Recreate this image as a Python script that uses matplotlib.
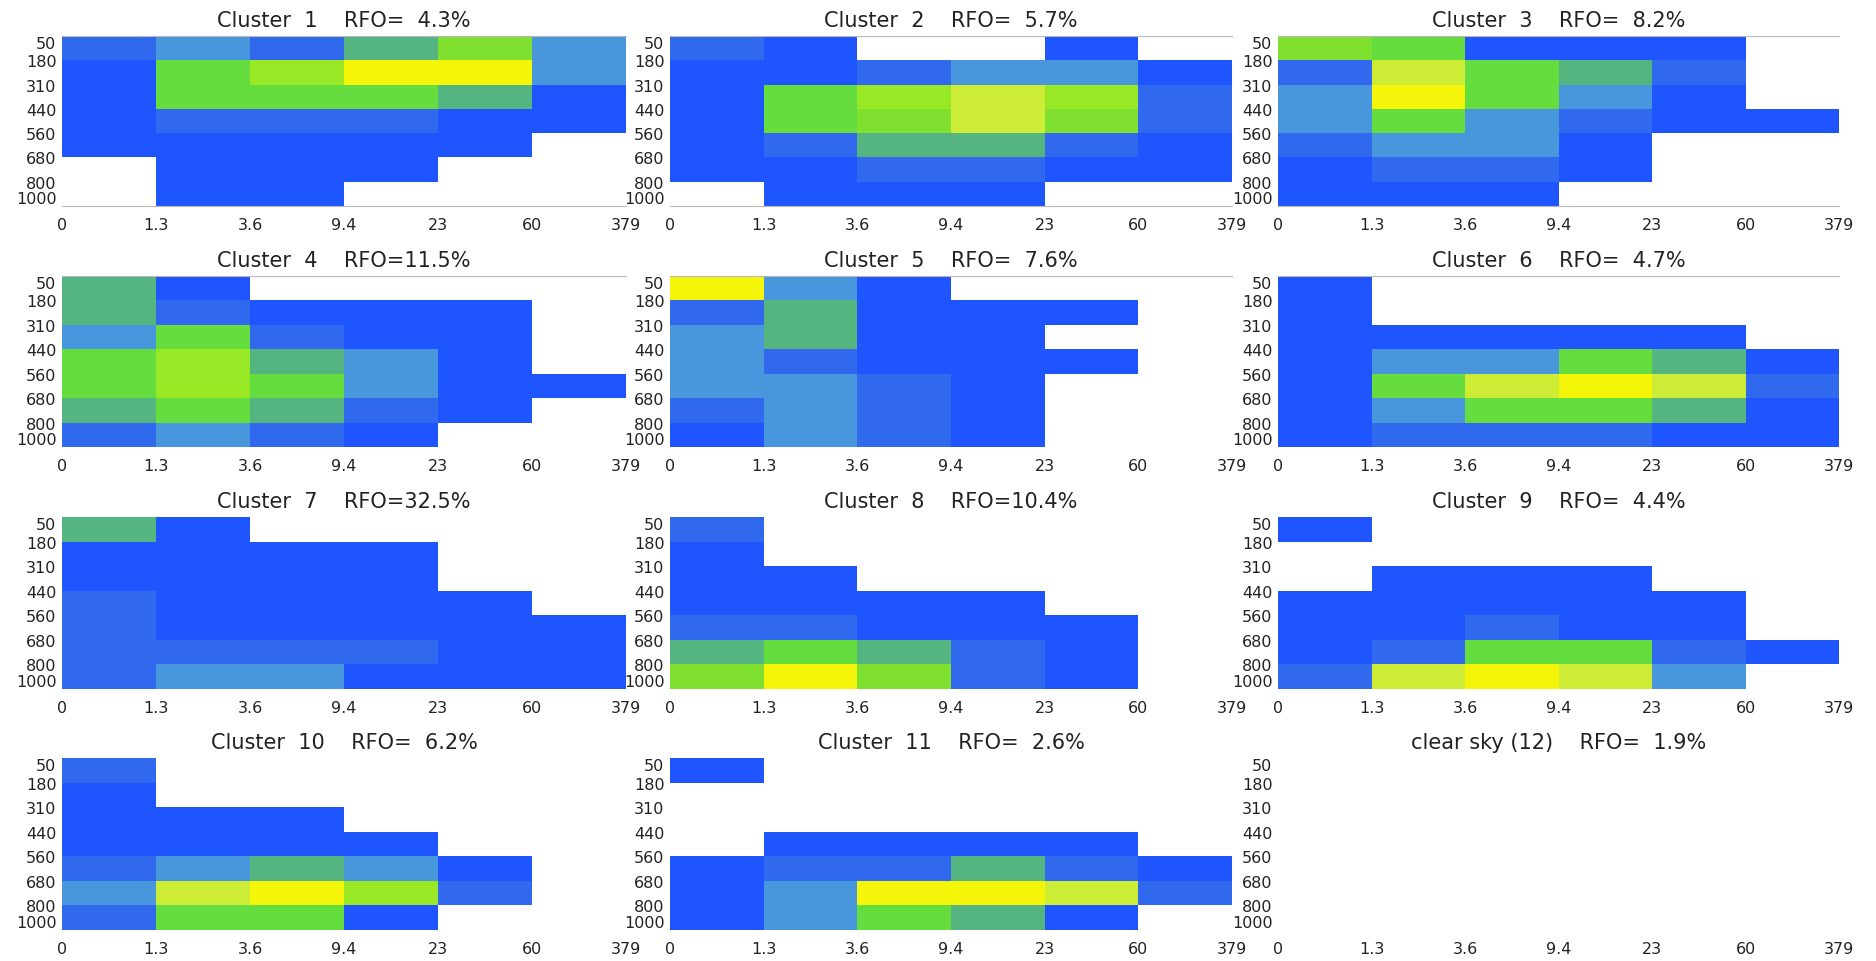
import matplotlib
matplotlib.use('Agg')
import matplotlib.pyplot as plt
import numpy as np
from matplotlib.colors import ListedColormap, BoundaryNorm

tau_labels = ['0', '1.3', '3.6', '9.4', '23', '60', '379']
pc_labels = ['50', '180', '310', '440', '560', '680', '800', '1000']

names = ['Cluster  1', 'Cluster  2', 'Cluster  3', 'Cluster  4', 'Cluster  5', 'Cluster  6',
         'Cluster  7', 'Cluster  8', 'Cluster  9', 'Cluster  10', 'Cluster  11', 'clear sky (12)']
rfo = [4.3, 5.7, 8.2, 11.5, 7.6, 4.7, 32.5, 10.4, 4.4, 6.2, 2.6, 1.9]

# colour level of each cell (0 = empty), rows 50-180 hPa at top down to 800-1000 hPa
cluster1 = [[2, 3, 2, 4, 6, 3],
            [1, 5, 7, 9, 9, 3],
            [1, 5, 5, 5, 4, 1],
            [1, 2, 2, 2, 1, 1],
            [1, 1, 1, 1, 1, 0],
            [0, 1, 1, 1, 0, 0],
            [0, 1, 1, 0, 0, 0]]
cluster2 = [[2, 1, 0, 0, 1, 0],
            [1, 1, 2, 3, 3, 1],
            [1, 5, 7, 8, 7, 2],
            [1, 5, 6, 8, 6, 2],
            [1, 2, 4, 4, 2, 1],
            [1, 1, 2, 2, 1, 1],
            [0, 1, 1, 1, 0, 0]]
cluster3 = [[6, 5, 1, 1, 1, 0],
            [2, 8, 5, 4, 2, 0],
            [3, 9, 5, 3, 1, 0],
            [3, 5, 3, 2, 1, 1],
            [2, 3, 3, 1, 0, 0],
            [1, 2, 2, 1, 0, 0],
            [1, 1, 1, 0, 0, 0]]
cluster4 = [[4, 1, 0, 0, 0, 0],
            [4, 2, 1, 1, 1, 0],
            [3, 5, 2, 1, 1, 0],
            [5, 7, 4, 3, 1, 0],
            [5, 7, 5, 3, 1, 1],
            [4, 5, 4, 2, 1, 0],
            [2, 3, 2, 1, 0, 0]]
cluster5 = [[9, 3, 1, 0, 0, 0],
            [2, 4, 1, 1, 1, 0],
            [3, 4, 1, 1, 0, 0],
            [3, 2, 1, 1, 1, 0],
            [3, 3, 2, 1, 0, 0],
            [2, 3, 2, 1, 0, 0],
            [1, 3, 2, 1, 0, 0]]
cluster6 = [[1, 0, 0, 0, 0, 0],
            [1, 0, 0, 0, 0, 0],
            [1, 1, 1, 1, 1, 0],
            [1, 3, 3, 5, 4, 1],
            [1, 5, 8, 9, 8, 2],
            [1, 3, 5, 5, 4, 1],
            [1, 2, 2, 2, 1, 1]]
cluster7 = [[4, 1, 0, 0, 0, 0],
            [1, 1, 1, 1, 0, 0],
            [1, 1, 1, 1, 0, 0],
            [2, 1, 1, 1, 1, 0],
            [2, 1, 1, 1, 1, 1],
            [2, 2, 2, 2, 1, 1],
            [2, 3, 3, 1, 1, 1]]
cluster8 = [[2, 0, 0, 0, 0, 0],
            [1, 0, 0, 0, 0, 0],
            [1, 1, 0, 0, 0, 0],
            [1, 1, 1, 1, 0, 0],
            [2, 2, 1, 1, 1, 0],
            [4, 5, 4, 2, 1, 0],
            [6, 9, 6, 2, 1, 0]]
cluster9 = [[1, 0, 0, 0, 0, 0],
            [0, 0, 0, 0, 0, 0],
            [0, 1, 1, 1, 0, 0],
            [1, 1, 1, 1, 1, 0],
            [1, 1, 2, 1, 1, 0],
            [1, 2, 5, 5, 2, 1],
            [2, 8, 9, 8, 3, 0]]
cluster10 = [[2, 0, 0, 0, 0, 0],
             [1, 0, 0, 0, 0, 0],
             [1, 1, 1, 0, 0, 0],
             [1, 1, 1, 1, 0, 0],
             [2, 3, 4, 3, 1, 0],
             [3, 8, 9, 7, 2, 0],
             [2, 5, 5, 1, 0, 0]]
cluster11 = [[1, 0, 0, 0, 0, 0],
             [0, 0, 0, 0, 0, 0],
             [0, 0, 0, 0, 0, 0],
             [0, 1, 1, 1, 1, 0],
             [1, 2, 2, 4, 2, 1],
             [1, 3, 9, 9, 8, 2],
             [1, 3, 5, 4, 1, 0]]
clear_sky = [[0] * 6 for _ in range(7)]

clusters = [cluster1, cluster2, cluster3, cluster4, cluster5, cluster6,
            cluster7, cluster8, cluster9, cluster10, cluster11, clear_sky]

level_colors = ['#1f55ff', '#3069ee', '#4896dc', '#55b580', '#66dd3f',
                '#80e030', '#98e825', '#ccec35', '#f5f50a']
cmap = ListedColormap(level_colors)
norm = BoundaryNorm(np.arange(0.5, 10.5, 1.0), cmap.N)

W, H = 1876, 962
fig = plt.figure(figsize=(W / 100, H / 100), dpi=100)

col_px = [(62, 626), (670, 1232), (1278, 1839)]
row_px = [(37, 207), (277, 448), (518, 690), (759, 931)]

for i, data in enumerate(clusters):
    r, c = divmod(i, 3)
    x0, x1 = col_px[c]
    y0, y1 = row_px[r]
    ax = fig.add_axes([x0 / W, 1 - y1 / H, (x1 - x0) / W, (y1 - y0) / H])
    vals = np.ma.masked_equal(np.array(data), 0)
    ax.pcolormesh(np.arange(7), np.arange(8), vals, cmap=cmap, norm=norm)
    ax.set_xlim(0, 6)
    ax.set_ylim(7, 0)

    ax.set_xticks(np.arange(7))
    ax.set_xticklabels(tau_labels)
    ax.set_yticks(np.arange(8))
    ax.set_yticklabels(pc_labels)
    ax.tick_params(length=0, labelsize=11.5, labelcolor='#222222')
    ax.tick_params(axis='x', pad=8)
    ax.tick_params(axis='y', pad=4)
    ylab = ax.get_yticklabels()
    ylab[0].set_va('top')
    ylab[-1].set_va('bottom')

    for s in ax.spines.values():
        s.set_visible(False)
    if r <= 1:
        ax.spines['top'].set_visible(True)
        ax.spines['top'].set_color('#b8b8b8')
        ax.spines['top'].set_linewidth(0.8)
    if r == 0:
        ax.spines['bottom'].set_visible(True)
        ax.spines['bottom'].set_color('#b8b8b8')
        ax.spines['bottom'].set_linewidth(0.8)

    pct = ('%4.1f' % rfo[i]).replace(' ', '  ')
    ax.set_title('%s    RFO=%s%%' % (names[i], pct), fontsize=15,
                 color='#222222', pad=7)

fig.savefig('out.png', dpi=100)
